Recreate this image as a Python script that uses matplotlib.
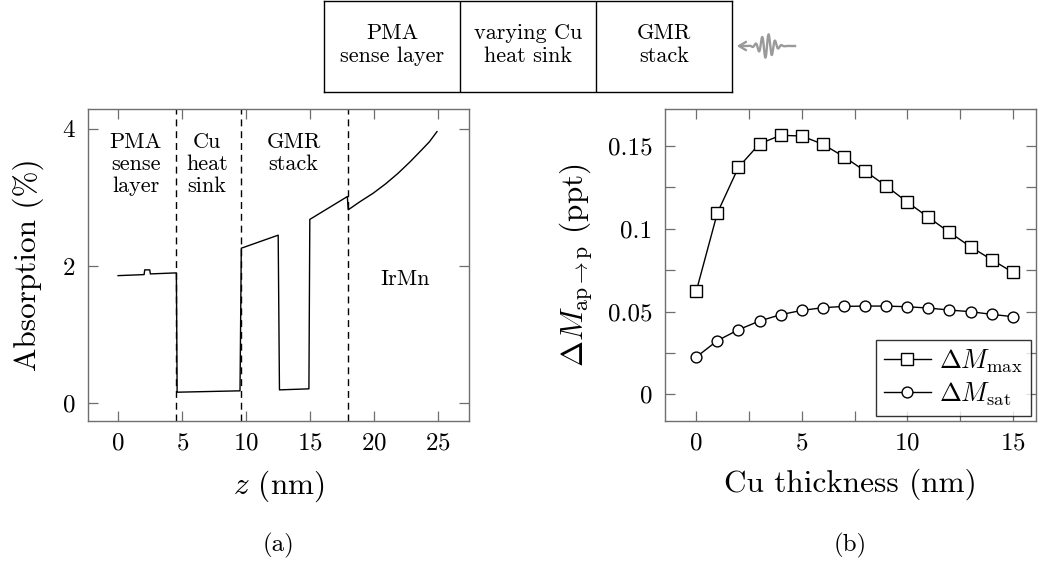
import numpy as np
import matplotlib
matplotlib.use("Agg")
import matplotlib.pyplot as plt

plt.rcParams['font.family'] = ['cmr10', 'DejaVu Serif']
plt.rcParams['mathtext.fontset'] = 'cm'
plt.rcParams['axes.formatter.use_mathtext'] = True

# absorption profile, panel (a)
z_nm = [0.0, 2.03, 2.08, 2.47, 2.52, 4.55, 4.61, 9.52, 9.62, 12.5, 12.6, 14.9, 14.97,
        17.9, 17.97, 18.9, 19.92, 20.9, 21.87, 22.8, 23.83, 24.3, 24.9]
absorption = [1.86, 1.875, 1.944, 1.944, 1.885, 1.90, 0.16, 0.18, 2.26, 2.45, 0.194, 0.209, 2.68,
              3.013, 2.82, 2.94, 3.062, 3.20, 3.354, 3.52, 3.718, 3.81, 3.96]
boundaries = [4.56, 9.56, 17.92]
region_labels = ["PMA\nsense\nlayer", "Cu\nheat\nsink", "GMR\nstack"]
region_centers = [1.36, 6.95, 13.7]

# panel (b)
cu_thickness = list(range(16))
dm_max = [0.0622, 0.1095, 0.1371, 0.1513, 0.1564, 0.1560, 0.1510, 0.1435,
          0.1348, 0.1258, 0.1161, 0.1069, 0.0978, 0.0891, 0.0813, 0.0737]
dm_sat = [0.0225, 0.0324, 0.0390, 0.0443, 0.0481, 0.0507, 0.0523, 0.0531,
          0.0533, 0.0533, 0.0529, 0.0521, 0.0509, 0.0499, 0.0483, 0.0469]

stack_labels = ["PMA\nsense layer", "varying Cu\nheat sink", "GMR\nstack"]

W, H = 1040, 565
frame_col = '#6e6e6e'
fig = plt.figure(figsize=(W / 100, H / 100), dpi=100)


def px_axes(x0, y0, x1, y1):
    return fig.add_axes([x0 / W, 1 - y1 / H, (x1 - x0) / W, (y1 - y0) / H])


def style_axes(ax):
    for s in ax.spines.values():
        s.set_color(frame_col)
        s.set_linewidth(1.0)
    ax.tick_params(which='both', direction='in', top=True, right=True, length=7.5,
                   width=0.9, color=frame_col, labelsize=18, pad=8)
    ax.tick_params(axis='y', pad=9)


# ---- panel (a)
ax1 = px_axes(88, 109, 469, 421)
ax1.plot(z_nm, absorption, color='black', lw=1.0)
for b in boundaries:
    ax1.axvline(b, color='black', lw=1.0, ls=(0, (5, 3.5)))
for lab, c in zip(region_labels, region_centers):
    ax1.text(c, 3.95, lab, ha='center', va='top', fontsize=16, linespacing=1.15)
ax1.text(22.4, 1.81, "IrMn", ha='center', va='center', fontsize=16)
ax1.set_xlim(-2.35, 27.4)
ax1.set_ylim(-0.26, 4.29)
ax1.set_xticks([0, 5, 10, 15, 20, 25])
ax1.set_yticks([0, 2, 4])
ax1.set_xlabel(r'$z$ (nm)', fontsize=22.5, labelpad=10)
ax1.set_ylabel('Absorption (%)', fontsize=22.5, labelpad=13)
style_axes(ax1)

# ---- panel (b)
ax2 = px_axes(665, 109, 1036, 421)
ax2.plot(cu_thickness, dm_max, color='black', lw=1.0, marker='s', ms=8.5,
         mfc='white', mec='black', mew=1.0, label=r'$\Delta M_{\mathrm{max}}$')
ax2.plot(cu_thickness, dm_sat, color='black', lw=1.0, marker='o', ms=7.8,
         mfc='white', mec='black', mew=1.0, label=r'$\Delta M_{\mathrm{sat}}$')
ax2.set_xlim(-1.48, 16.1)
ax2.set_ylim(-0.0161, 0.1723)
ax2.set_xticks([0, 5, 10, 15])
ax2.set_xticks([2.5, 7.5, 12.5], minor=True)
ax2.set_yticks([0, 0.05, 0.1, 0.15])
ax2.set_yticklabels(['0', '0.05', '0.1', '0.15'])
ax2.set_yticks([0.025, 0.075, 0.125], minor=True)
ax2.set_xlabel('Cu thickness (nm)', fontsize=22.5, labelpad=10)
ax2.set_ylabel(r'$\Delta M_{\mathrm{ap}\rightarrow\mathrm{p}}$ (ppt)', fontsize=22.5, labelpad=9)
style_axes(ax2)
leg = ax2.legend(loc='lower right', fontsize=19, frameon=True, fancybox=False,
                 edgecolor='black', handlelength=1.8, handletextpad=0.3,
                 borderpad=0.3, labelspacing=0.2, borderaxespad=0.2)
leg.get_frame().set_linewidth(1.0)

fig.text(278.5 / W, 1 - 545 / H, '(a)', ha='center', va='center', fontsize=18)
fig.text(850.5 / W, 1 - 545 / H, '(b)', ha='center', va='center', fontsize=18)

# ---- layer stack sketch on top
ax3 = px_axes(324, 1, 732, 92)
ax3.set_xlim(0, 3)
ax3.set_ylim(0, 1)
ax3.set_xticks([])
ax3.set_yticks([])
for s in ax3.spines.values():
    s.set_color('black')
    s.set_linewidth(1.0)
ax3.axvline(1, color='black', lw=1.0)
ax3.axvline(2, color='black', lw=1.0)
for i, lab in enumerate(stack_labels):
    ax3.text(i + 0.5, 0.52, lab, ha='center', va='center', fontsize=16, linespacing=1.25)

# incoming light pulse
ax4 = px_axes(728, 26, 800, 66)
ax4.set_xlim(728, 800)
ax4.set_ylim(66, 26)
ax4.axis('off')
wx = np.linspace(744, 795, 500)
env = 12.0 * np.exp(-((wx - 767.0) / 9.0) ** 2)
wy = 46 - env * np.sin(2 * np.pi * (wx - 767.0) / 6.5)
ax4.plot(wx, wy, color='#9a9a9a', lw=1.7)
ax4.annotate('', xy=(734, 46), xytext=(746, 46),
             arrowprops=dict(arrowstyle='->,head_length=0.5,head_width=0.3',
                             color='#9a9a9a', lw=1.7))

fig.savefig('out.png', dpi=100)
